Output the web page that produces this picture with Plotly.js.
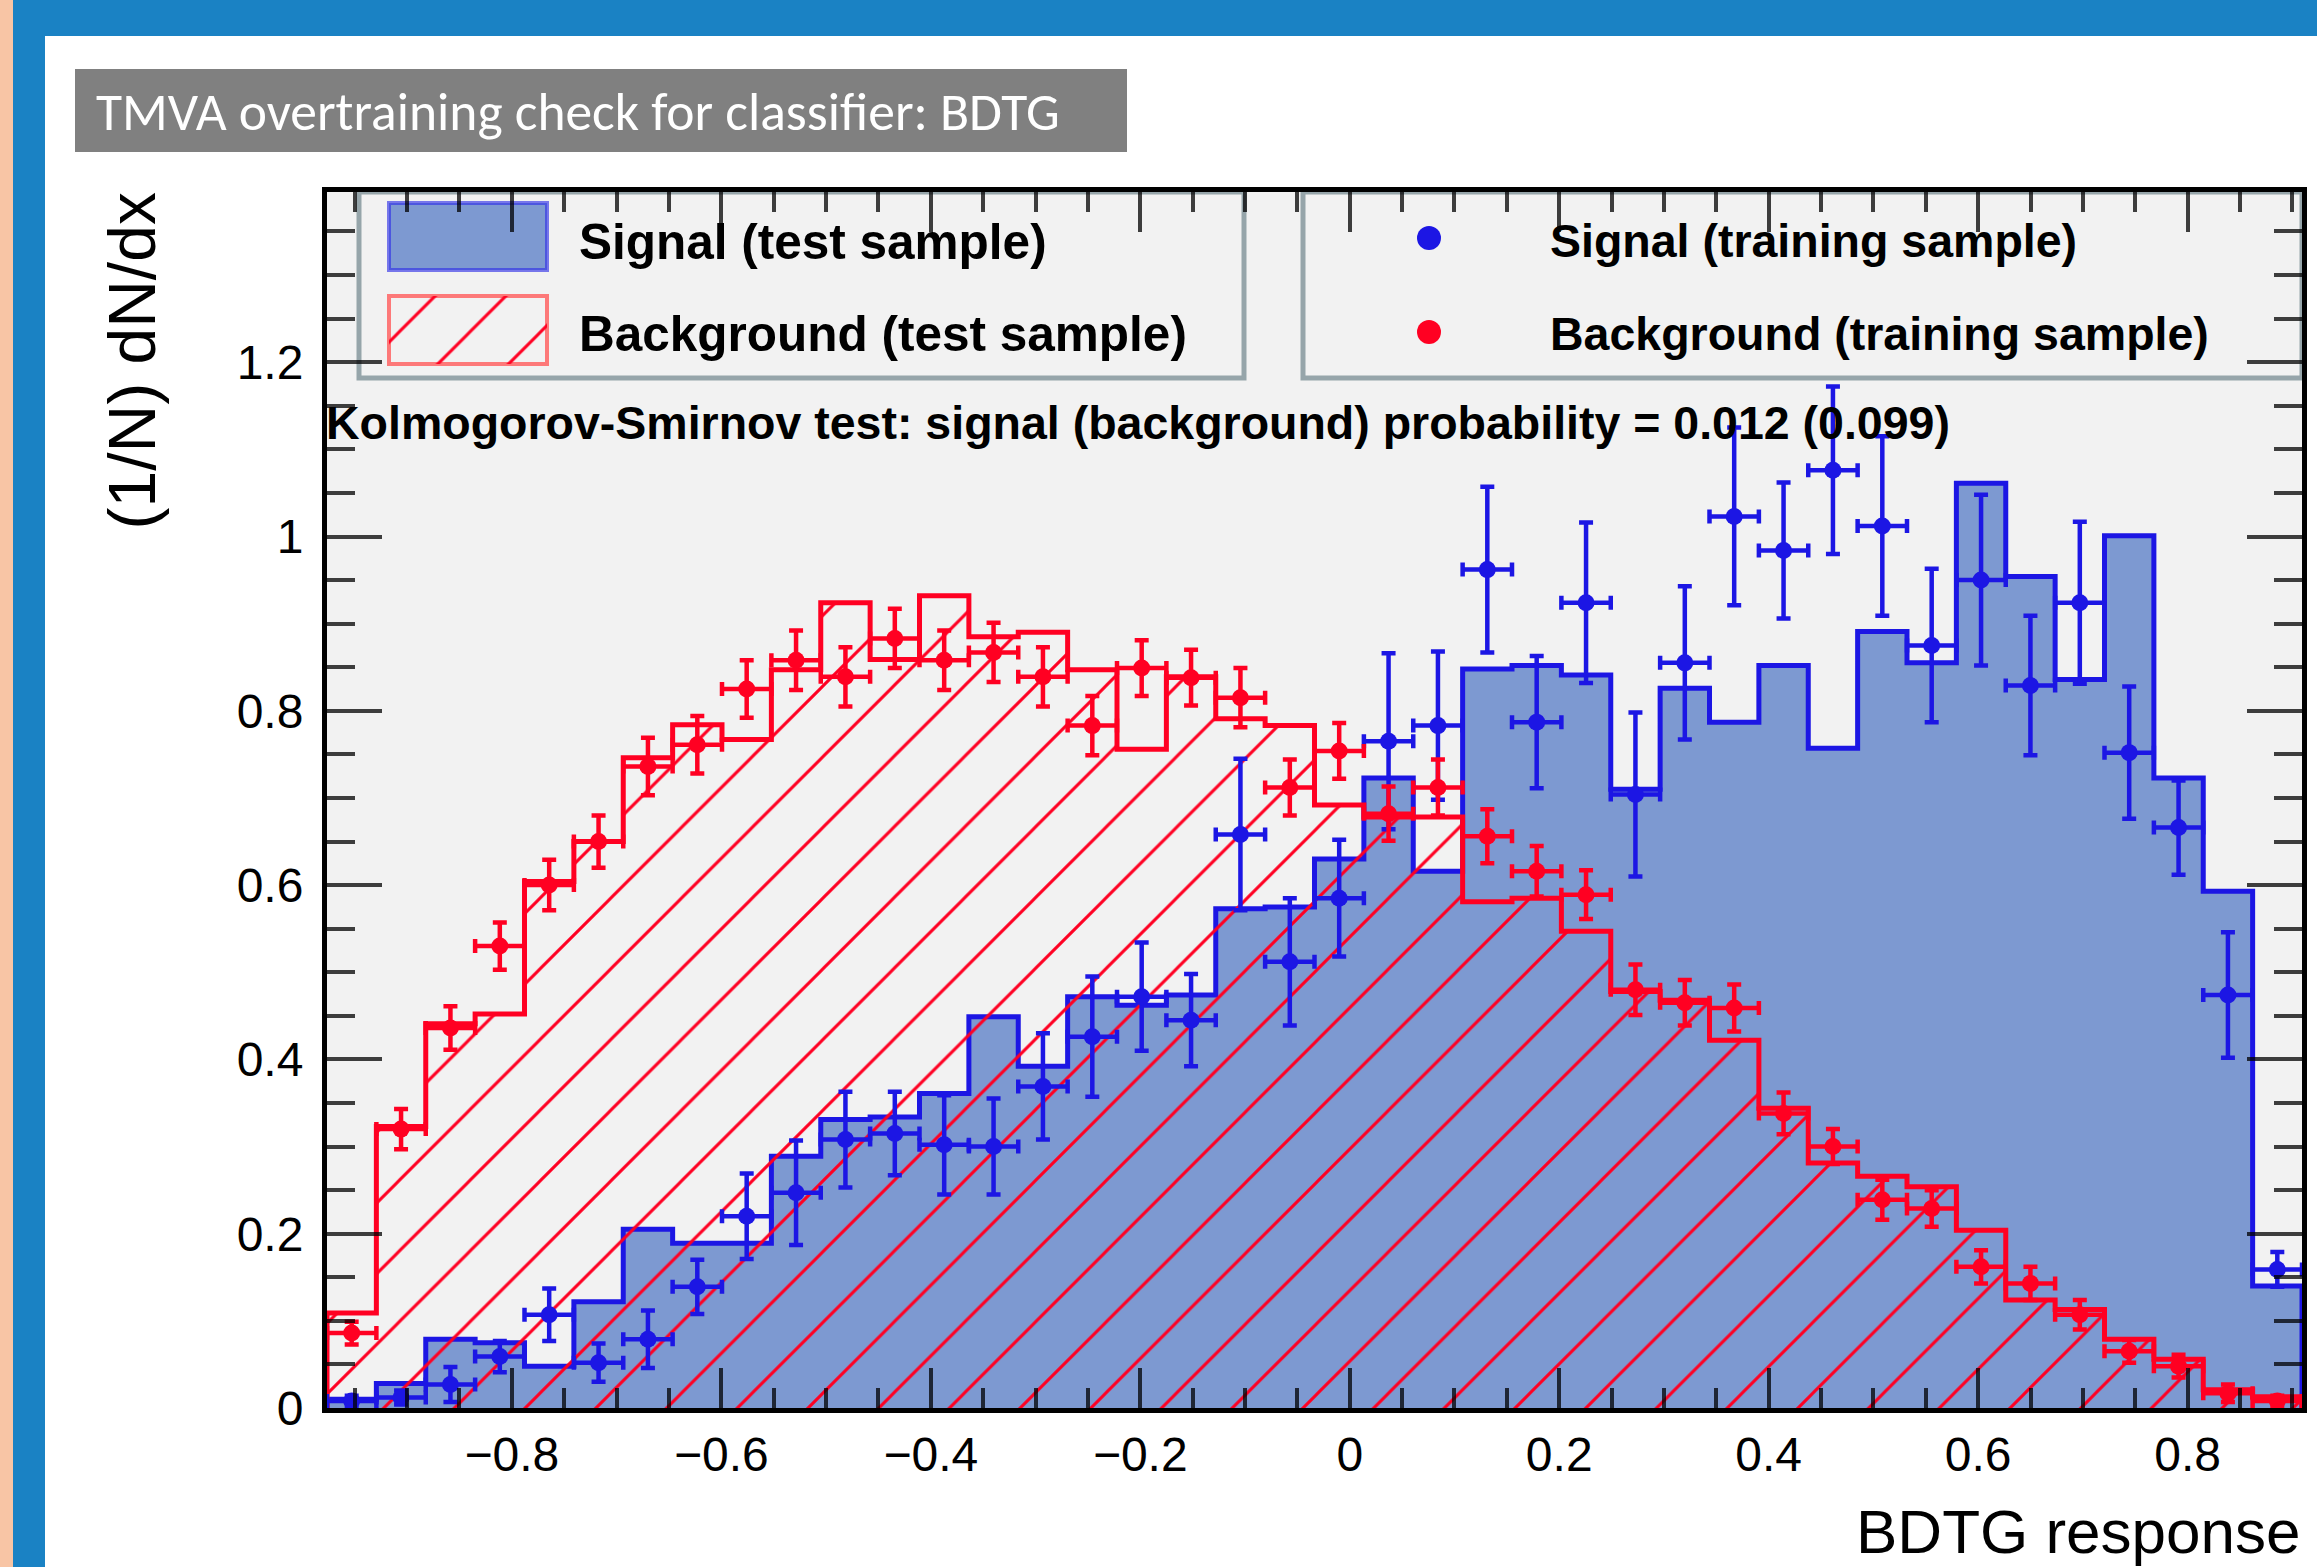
<!DOCTYPE html>
<html>
<head>
<meta charset="utf-8">
<script src="https://cdn.plot.ly/plotly-3.0.1.min.js"></script>
<style>
html,body{margin:0;padding:0;background:#ffffff;}
#chart{width:2317px;height:1567px;}
</style>
</head>
<body>
<div id="chart"></div>
<script>
// ---------------- data ----------------
const binLow = -0.9765;
const binHigh = 0.9092;
const nBins = 40;

// Signal (test sample) histogram, normalised (1/N) dN/dx
const sigTest = [0.010,0.028,0.079,0.075,0.048,0.122,0.205,0.189,0.189,0.289,
                 0.331,0.334,0.361,0.449,0.392,0.472,0.462,0.474,0.573,0.575,
                 0.630,0.723,0.616,0.848,0.852,0.841,0.710,0.826,0.787,0.852,
                 0.757,0.891,0.855,1.061,0.954,0.836,1.001,0.723,0.593,0.140];

// Background (test sample) histogram
const bkgTest = [0.109,0.323,0.441,0.452,0.604,0.650,0.746,0.784,0.767,0.847,
                 0.924,0.859,0.932,0.885,0.890,0.847,0.756,0.839,0.791,0.783,
                 0.692,0.678,0.678,0.581,0.585,0.547,0.478,0.468,0.422,0.344,
                 0.281,0.266,0.254,0.204,0.124,0.113,0.079,0.056,0.021,0.013];

// Signal (training sample) points and errors
const sigTrain = [0.008,0.012,0.027,0.059,0.107,0.052,0.079,0.139,0.220,0.247,
                  0.308,0.315,0.302,0.300,0.369,0.426,0.472,0.445,0.658,0.512,
                  0.585,0.765,0.783,0.962,0.787,0.924,0.704,0.855,1.023,0.984,
                  1.076,1.012,0.875,0.950,0.829,0.924,0.752,0.666,0.474,0.159];
const sigTrainErr = [0.006,0.008,0.020,0.018,0.030,0.022,0.033,0.031,0.049,0.060,
                     0.055,0.048,0.057,0.055,0.061,0.069,0.062,0.053,0.087,0.073,
                     0.067,0.101,0.085,0.095,0.076,0.092,0.094,0.088,0.102,0.078,
                     0.096,0.103,0.088,0.098,0.080,0.093,0.076,0.054,0.072,0.020];

// Background (training sample) points and errors
const bkgTrain = [0.086,0.320,0.436,0.530,0.600,0.650,0.736,0.761,0.825,0.858,
                  0.839,0.883,0.858,0.867,0.839,0.783,0.849,0.838,0.815,0.712,
                  0.754,0.682,0.712,0.656,0.616,0.589,0.480,0.465,0.459,0.338,
                  0.300,0.239,0.229,0.162,0.143,0.107,0.065,0.048,0.017,0.008];
const bkgTrainErr = [0.013,0.023,0.025,0.027,0.029,0.030,0.033,0.033,0.033,0.034,
                     0.034,0.034,0.034,0.034,0.034,0.034,0.032,0.032,0.034,0.032,
                     0.032,0.031,0.032,0.031,0.029,0.028,0.029,0.026,0.027,0.024,
                     0.020,0.023,0.021,0.019,0.019,0.017,0.013,0.013,0.010,0.006];

const legendLabels = ["Signal (test sample)", "Background (test sample)",
                      "Signal (training sample)", "Background (training sample)"];
const ksText = "Kolmogorov-Smirnov test: signal (background) probability = 0.012 (0.099)";
const slideTitle = "TMVA overtraining check for classifier: BDTG";
const xTitle = "BDTG response";
const yTitle = "(1/N) dN/dx";

// ---------------- geometry / style ----------------
const W = 2317, H = 1567, L = 327, R = 15, T = 192, B = 159;
const PW = W - L - R, PH = H - T - B;
const yPerUnit = 871.5;
const yTop = PH / yPerUnit;
const px = p => (p - L) / PW;          // pixel x -> paper x
const py = p => (H - B - p) / PH;      // pixel y -> paper y

const SIG_FILL = '#7d99d1', SIG_LINE = '#1c16e4', BKG_LINE = '#ff0022';
const FONT = 'Liberation Sans, Arial, Helvetica, sans-serif';

const bw = (binHigh - binLow) / nBins;
const edges = Array.from({length: nBins + 1}, (_, i) => binLow + i * bw);
const centers = Array.from({length: nBins}, (_, i) => binLow + (i + 0.5) * bw);

function stepXY(vals) {
  const xs = [edges[0]], ys = [0];
  for (let i = 0; i < vals.length; i++) { xs.push(edges[i]); ys.push(vals[i]); }
  xs.push(edges[vals.length]); ys.push(vals[vals.length - 1]);
  xs.push(edges[vals.length]); ys.push(0);
  return {xs, ys};
}
const sStep = stepXY(sigTest), bStep = stepXY(bkgTest);

const HATCH = {shape:'/', fgcolor:BKG_LINE, bgcolor:'rgba(0,0,0,0)', size:50, solidity:0.06};

const traces = [
  {type:'scatter', mode:'lines', x:sStep.xs, y:sStep.ys,
   line:{color:SIG_LINE, width:5, shape:'hv'}, fill:'tozeroy', fillcolor:SIG_FILL,
   hoverinfo:'skip', showlegend:false},
  {type:'scatter', mode:'lines', x:bStep.xs, y:bStep.ys,
   line:{color:BKG_LINE, width:5, shape:'hv'}, fill:'tozeroy', fillcolor:'rgba(255,0,0,0)',
   fillpattern:HATCH, hoverinfo:'skip', showlegend:false},
  {type:'scatter', mode:'markers', x:centers, y:sigTrain,
   marker:{color:SIG_LINE, size:17},
   error_y:{type:'data', array:sigTrainErr, color:SIG_LINE, thickness:4.5, width:7},
   error_x:{type:'constant', value:bw/2, color:SIG_LINE, thickness:4.5, width:7},
   hoverinfo:'skip', showlegend:false},
  {type:'scatter', mode:'markers', x:centers, y:bkgTrain,
   marker:{color:BKG_LINE, size:17},
   error_y:{type:'data', array:bkgTrainErr, color:BKG_LINE, thickness:4.5, width:7},
   error_x:{type:'constant', value:bw/2, color:BKG_LINE, thickness:4.5, width:7},
   hoverinfo:'skip', showlegend:false},
  // hatched legend swatch (overlay axes in plot-fraction units)
  {type:'scatter', mode:'lines', xaxis:'x2', yaxis:'y2',
   x:[px(389), px(547), px(547), px(389), px(389)],
   y:[py(296), py(296), py(364), py(364), py(296)],
   fill:'toself', fillcolor:'rgba(255,0,0,0)', line:{width:0, color:'rgba(0,0,0,0)'},
   fillpattern:HATCH, hoverinfo:'skip', showlegend:false}
];

function rectPx(x0, y0, x1, y1, fill, line, lw, layer) {
  return {type:'rect', xref:'paper', yref:'paper', x0:px(x0), x1:px(x1), y0:py(y0), y1:py(y1),
          fillcolor:fill, line:{color:line || 'rgba(0,0,0,0)', width:lw || 0}, layer:layer || 'below'};
}
function circlePx(cx, cy, r, color) {
  return {type:'circle', xref:'paper', yref:'paper', x0:px(cx - r), x1:px(cx + r), y0:py(cy + r), y1:py(cy - r),
          fillcolor:color, line:{width:0}, layer:'above'};
}

const LEG_BORDER = 'rgb(150,165,170)';
const shapes = [
  rectPx(0, 0, W, 36, '#1a82c4'),
  rectPx(13, 0, 45, H, '#1a82c4'),
  rectPx(0, 0, 13, H, '#f8c5a5'),
  rectPx(75, 69, 1127, 152, '#808080'),
  rectPx(359, 192, 1244, 378, 'rgba(0,0,0,0)', LEG_BORDER, 5),
  rectPx(1303, 192, 2302, 378, 'rgba(0,0,0,0)', LEG_BORDER, 5),
  rectPx(389, 203, 547, 270, SIG_FILL, 'rgba(50,50,230,0.65)', 4),
  rectPx(389, 296, 547, 364, 'rgba(0,0,0,0)', 'rgba(255,90,90,0.8)', 4),
  circlePx(1429, 238, 12, SIG_LINE),
  circlePx(1429, 332, 12, BKG_LINE)
];

function textAnn(text, x, y, size, opts) {
  return Object.assign({text:text, xref:'paper', yref:'paper', x:px(x), y:py(y),
    xanchor:'left', yanchor:'middle', showarrow:false, borderpad:0,
    font:{family:FONT, size:size, color:'#000'}}, opts || {});
}
const boldFont = s => ({family:FONT, size:s, color:'#000', weight:'bold'});

const annotations = [
  textAnn(slideTitle, 95, 111, 53.5, {font:{family:'Carlito, Lato, sans-serif', size:53.5, color:'#ffffff'}}),
  textAnn(ksText, 325, 423, 46.5, {font:boldFont(46.5)}),
  textAnn(legendLabels[0], 578, 241, 49.5, {font:boldFont(49.5)}),
  textAnn(legendLabels[1], 578, 333.5, 49.5, {font:boldFont(49.5)}),
  textAnn(legendLabels[2], 1549, 241, 46.5, {font:boldFont(46.5)}),
  textAnn(legendLabels[3], 1549, 333.5, 46.5, {font:boldFont(46.5)}),
  textAnn(xTitle, 2302, 1531, 62, {xanchor:'right', font:{family:FONT, size:62, color:'#000'}}),
  textAnn(yTitle, 131, 192, 66, {xanchor:'center', yanchor:'top', textangle:-90,
    font:{family:FONT, size:66, color:'#000'}})
];

const TICKC = 'rgba(0,0,0,0.75)';
const layout = {
  width:W, height:H,
  margin:{l:L, r:R, t:T, b:B, pad:0},
  paper_bgcolor:'#ffffff', plot_bgcolor:'#f2f2f2',
  showlegend:false,
  xaxis:{range:[binLow, binHigh], showgrid:false, zeroline:false,
    showline:true, linecolor:'#000', linewidth:5, mirror:'ticks',
    ticks:'inside', ticklen:40, tickwidth:4, tickcolor:TICKC, tick0:0, dtick:0.2,
    minor:{ticks:'inside', ticklen:20, tickwidth:4, tickcolor:TICKC, tick0:0, dtick:0.05},
    tickfont:{family:FONT, size:48, color:'#000'}, ticklabelstandoff:0, fixedrange:true},
  yaxis:{range:[0, yTop], showgrid:false, zeroline:false,
    showline:true, linecolor:'#000', linewidth:5, mirror:'ticks',
    ticks:'inside', ticklen:55, tickwidth:4, tickcolor:TICKC, tick0:0, dtick:0.2,
    minor:{ticks:'inside', ticklen:28, tickwidth:4, tickcolor:TICKC, tick0:0, dtick:0.05},
    tickfont:{family:FONT, size:48, color:'#000'}, ticklabelstandoff:9, fixedrange:true},
  xaxis2:{overlaying:'x', range:[0,1], visible:false, fixedrange:true},
  yaxis2:{overlaying:'y', range:[0,1], visible:false, fixedrange:true},
  shapes:shapes,
  annotations:annotations
};

Plotly.newPlot('chart', traces, layout, {staticPlot:true, displayModeBar:false});
</script>
</body>
</html>
